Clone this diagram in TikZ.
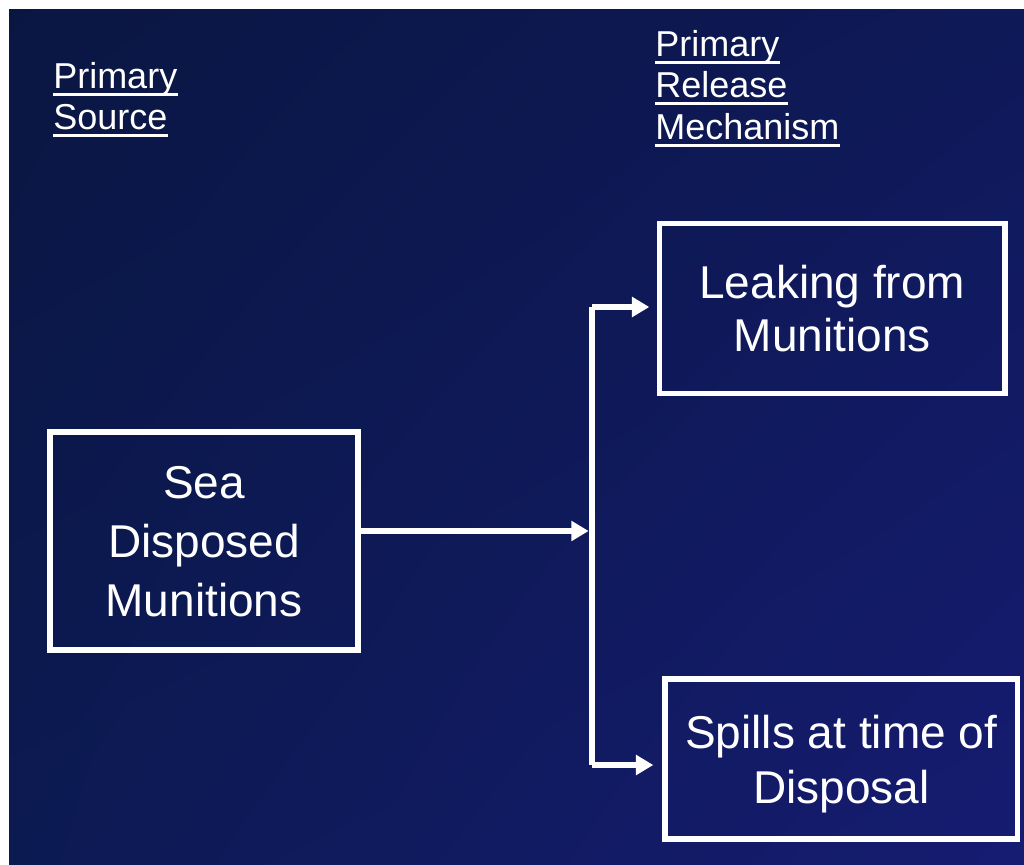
\documentclass[tikz,border=0pt]{standalone}
\usepackage{fontspec}
\setmainfont{Liberation Sans}
\usetikzlibrary{arrows.meta,shadings}
\definecolor{bgUL}{RGB}{10,22,66}
\definecolor{bgUR}{RGB}{14,25,88}
\definecolor{bgLL}{RGB}{12,26,82}
\definecolor{bgLR}{RGB}{22,28,114}
\tikzset{
  conn/.style={white, line width=4.5pt},
  arr/.style={conn, -{Triangle[length=13pt,width=14.5pt]}},
  box/.style={draw=white, line width=4.1pt, text=white, align=center, inner sep=0pt,
    font=\fontsize{34.5}{44}\selectfont},
  lbl/.style={text=white, inner sep=0pt, anchor=base west, font=\fontsize{27}{31}\selectfont},
  uline/.style={white, line width=2.25pt},
}
\begin{document}
\begin{tikzpicture}[x=0.75pt, y=-0.75pt]
\useasboundingbox (0,0) rectangle (1024,864);
\fill[white] (0,0) rectangle (1024,864);
\shade[upper left=bgUL, upper right=bgUR, lower left=bgLL, lower right=bgLR] (9,9) rectangle (1024,864);

% headings
\node[lbl] (ps1) at (53,88) {Primary};
\node[lbl] (ps2) at (53,129.5) {Source};
\node[lbl] (pr1) at (655,56) {Primary};
\node[lbl] (pr2) at (655,97.5) {Release};
\node[lbl] (pr3) at (655,139) {Mechanism};
\foreach \n in {ps1,ps2,pr1,pr2,pr3}
  \draw[uline] ([yshift=-4.6pt]\n.base west) -- ([yshift=-4.6pt]\n.base east);

% boxes
\node[box, minimum width=231pt, minimum height=163.5pt, text depth=0pt,
  font=\fontsize{34.5}{44.25}\selectfont] (sea) at (204,541) {Sea\\Disposed\\Munitions};
\node[box, minimum width=259.1pt, minimum height=127.5pt,
  font=\fontsize{34.5}{39.75}\selectfont] (leak) at (832.25,308.5) {Leaking from\\Munitions};
\node[box, minimum width=264.4pt, minimum height=120pt, text depth=0pt,
  font=\fontsize{34.5}{41.25}\selectfont] (spill) at (841.25,759) {Spills at time of\\Disposal};

% connectors
\coordinate (jmid) at (592,531);
\coordinate (jtop) at (592,307);
\coordinate (jbot) at (592,765);
\draw[conn] (jtop) -- (jbot);
\draw[arr, shorten >=2.5pt] (sea.east |- jmid) -- (jmid);
\draw[arr, shorten >=5.6pt] (jtop) -- (leak.west |- jtop);
\draw[arr, shorten >=6.7pt] (jbot) -- (spill.west |- jbot);
\end{tikzpicture}
\end{document}
